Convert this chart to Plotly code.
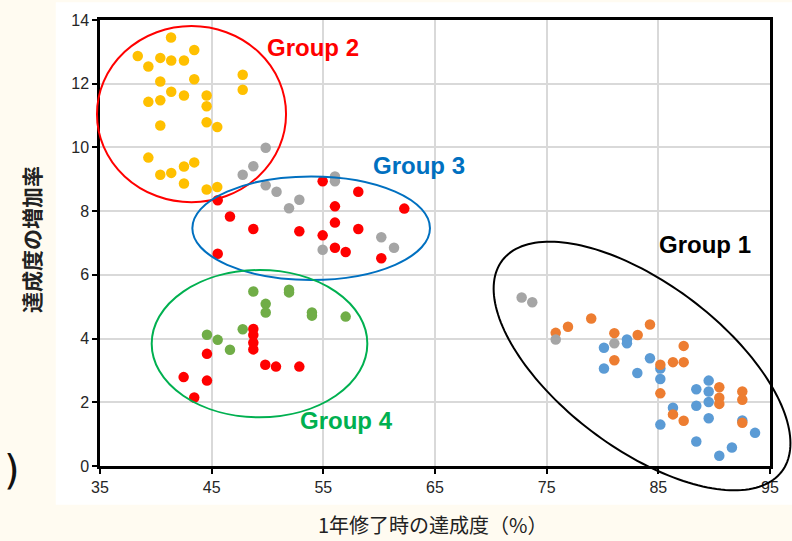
import numpy as np
import plotly.graph_objects as go

# ---- data: achievement at end of year 1 (%) vs. growth rate of achievement ----
yellow_x = [41.36, 38.38, 39.33, 40.40, 41.38, 42.52, 43.44, 40.40, 41.38, 42.52,
            43.44, 39.33, 40.40, 44.55, 44.55, 47.78, 47.78, 40.40, 44.55, 45.50,
            39.33, 40.40, 41.38, 42.52, 43.44, 42.52, 44.55, 45.50]
yellow_y = [13.45, 12.87, 12.54, 12.81, 12.73, 12.73, 13.06, 12.07, 11.75, 11.63,
            12.14, 11.43, 11.48, 11.63, 11.29, 12.28, 11.81, 10.69, 10.79, 10.64,
            9.68, 9.14, 9.20, 9.40, 9.53, 8.87, 8.68, 8.76]

gray_x = [49.84, 48.73, 47.78, 49.84, 50.81, 51.93, 52.85, 56.04, 56.04, 54.94,
          60.19, 61.33, 72.76, 73.71, 75.81, 81.06]
gray_y = [9.99, 9.41, 9.14, 8.81, 8.61, 8.09, 8.36, 9.09, 8.94, 6.79,
          7.18, 6.85, 5.29, 5.14, 3.97, 3.85]

red_x = [54.94, 58.13, 45.54, 56.04, 62.25, 46.64, 56.04, 48.73, 52.85, 58.13,
         54.94, 56.04, 57.00, 60.19, 45.54,
         48.73, 48.73, 48.73, 48.73, 44.58, 49.80, 50.76, 52.85, 42.49, 44.58, 43.44]
red_y = [8.94, 8.61, 8.34, 8.15, 8.08, 7.83, 7.64, 7.44, 7.37, 7.44,
         7.24, 6.85, 6.72, 6.52, 6.66,
         4.30, 4.11, 3.87, 3.66, 3.52, 3.18, 3.12, 3.12, 2.79, 2.68, 2.15]

green_x = [48.73, 51.93, 51.93, 49.84, 49.84, 53.98, 53.98, 57.00, 47.78, 44.58,
           45.54, 46.64]
green_y = [5.48, 5.53, 5.45, 5.09, 4.82, 4.82, 4.72, 4.69, 4.29, 4.12,
           3.96, 3.65]

orange_x = [75.81, 76.91, 78.99, 81.06, 83.15, 84.25, 81.06, 87.27, 85.18, 86.31,
            87.27, 85.18, 90.46, 90.46, 90.46, 92.52, 92.52, 86.31, 87.27, 92.52]
orange_y = [4.18, 4.37, 4.63, 4.17, 4.11, 4.44, 3.32, 3.77, 3.18, 3.26,
            3.26, 2.28, 2.47, 2.14, 1.95, 2.34, 2.08, 1.62, 1.42, 1.36]

blue_x = [80.13, 82.19, 82.19, 80.13, 83.12, 84.25, 85.18, 85.18, 89.51, 89.51,
          88.40, 89.51, 88.40, 86.31, 89.51, 85.18, 92.52, 93.66, 88.40, 91.59, 90.46]
blue_y = [3.71, 3.97, 3.85, 3.06, 2.92, 3.38, 3.06, 2.73, 2.68, 2.34,
          2.41, 2.01, 1.89, 1.83, 1.50, 1.30, 1.43, 1.04, 0.77, 0.58, 0.32]

x_range = [35, 95]
y_range = [0, 14]
x_ticks = [35, 45, 55, 65, 75, 85, 95]
y_ticks = [0, 2, 4, 6, 8, 10, 12, 14]

# group outlines: axis-aligned ellipses given by data bounds (x0, x1, y0, y1)
group2_box = (34.73, 51.66, 8.28, 13.81)
group3_box = (43.27, 64.55, 5.84, 9.09)
group4_box = (39.63, 58.94, 1.53, 6.15)
# tilted ellipse for group 1: centre plus two conjugate half-axis vectors (data units)
group1_center = (83.54, 3.14)
group1_axis_a = (12.50, -3.32)
group1_axis_b = (-4.51, -2.05)

labels = [
    ("Group 2", 54.07, 13.13, "#FF0000"),
    ("Group 3", 63.57, 9.43, "#0070C0"),
    ("Group 1", 89.18, 6.94, "#000000"),
    ("Group 4", 57.03, 1.43, "#00B050"),
]


def to_px(x):
    return (x - x_range[0]) / (x_range[1] - x_range[0])


def to_py(y):
    return (y - y_range[0]) / (y_range[1] - y_range[0])


fig = go.Figure()

series = [
    (blue_x, blue_y, "#5B9BD5"),
    (orange_x, orange_y, "#ED7D31"),
    (gray_x, gray_y, "#A5A5A5"),
    (yellow_x, yellow_y, "#FFC000"),
    (green_x, green_y, "#70AD47"),
    (red_x, red_y, "#FF0000"),
]
for xs, ys, col in series:
    fig.add_trace(go.Scatter(
        x=xs, y=ys, mode="markers",
        marker=dict(size=10.5, color=col, line=dict(width=0)),
        showlegend=False, hoverinfo="skip",
    ))

shapes = [
    # white chart panel over the cream page
    dict(type="rect", xref="paper", yref="paper", x0=-0.066, x1=1.04, y0=-0.087, y1=1.04,
         fillcolor="white", line=dict(width=0), layer="below"),
]
for box, col in [(group2_box, "#FF0000"), (group3_box, "#0070C0"), (group4_box, "#00B050")]:
    x0, x1, y0, y1 = box
    shapes.append(dict(type="circle", xref="paper", yref="paper",
                       x0=to_px(x0), x1=to_px(x1), y0=to_py(y0), y1=to_py(y1),
                       line=dict(color=col, width=2), layer="above"))

t = np.linspace(0, 2 * np.pi, 181)
ex = group1_center[0] + group1_axis_a[0] * np.cos(t) + group1_axis_b[0] * np.sin(t)
ey = group1_center[1] + group1_axis_a[1] * np.cos(t) + group1_axis_b[1] * np.sin(t)
path = "M " + " L ".join(f"{to_px(a):.5f},{to_py(b):.5f}" for a, b in zip(ex, ey)) + " Z"
shapes.append(dict(type="path", xref="paper", yref="paper", path=path,
                   line=dict(color="#000000", width=2), layer="above"))

annotations = []
for text, x, y, col in labels:
    annotations.append(dict(text=f"<b>{text}</b>", x=x, y=y, xref="x", yref="y",
                            showarrow=False,
                            font=dict(family="Liberation Sans, Arial", size=24, color=col)))

annotations += [
    dict(text="1年修了時の達成度（%）", x=0.497, y=-0.131, xref="paper", yref="paper",
         showarrow=False, xanchor="center", yanchor="middle",
         font=dict(family="Noto Sans CJK JP", size=20, color="#222222")),
    dict(text="<b>達成度の増加率</b>", x=-0.103, y=0.509, xref="paper", yref="paper",
         showarrow=False, textangle=-90, xanchor="center", yanchor="middle",
         font=dict(family="Noto Sans CJK JP", size=21, color="#222222")),
    dict(text=")", x=-0.131, y=-0.009, xref="paper", yref="paper",
         showarrow=False, xanchor="center", yanchor="middle",
         font=dict(family="DejaVu Sans", size=40, color="#111111")),
]

axis_common = dict(
    showline=True, linecolor="black", linewidth=2.5, mirror=True,
    showgrid=True, gridcolor="#D9D9D9", gridwidth=1.5,
    ticks="outside", ticklen=5, tickwidth=2, tickcolor="black",
    tickfont=dict(family="Liberation Sans, Arial", size=16, color="#262626"),
    zeroline=False,
)

fig.update_layout(
    width=792, height=541,
    margin=dict(l=100, r=22, t=16, b=75),
    paper_bgcolor="#FFFBF1",
    plot_bgcolor="white",
    xaxis=dict(range=x_range, tickvals=x_ticks, **axis_common),
    yaxis=dict(range=y_range, tickvals=y_ticks, **axis_common),
    shapes=shapes,
    annotations=annotations,
)

fig.write_html("out.html")
